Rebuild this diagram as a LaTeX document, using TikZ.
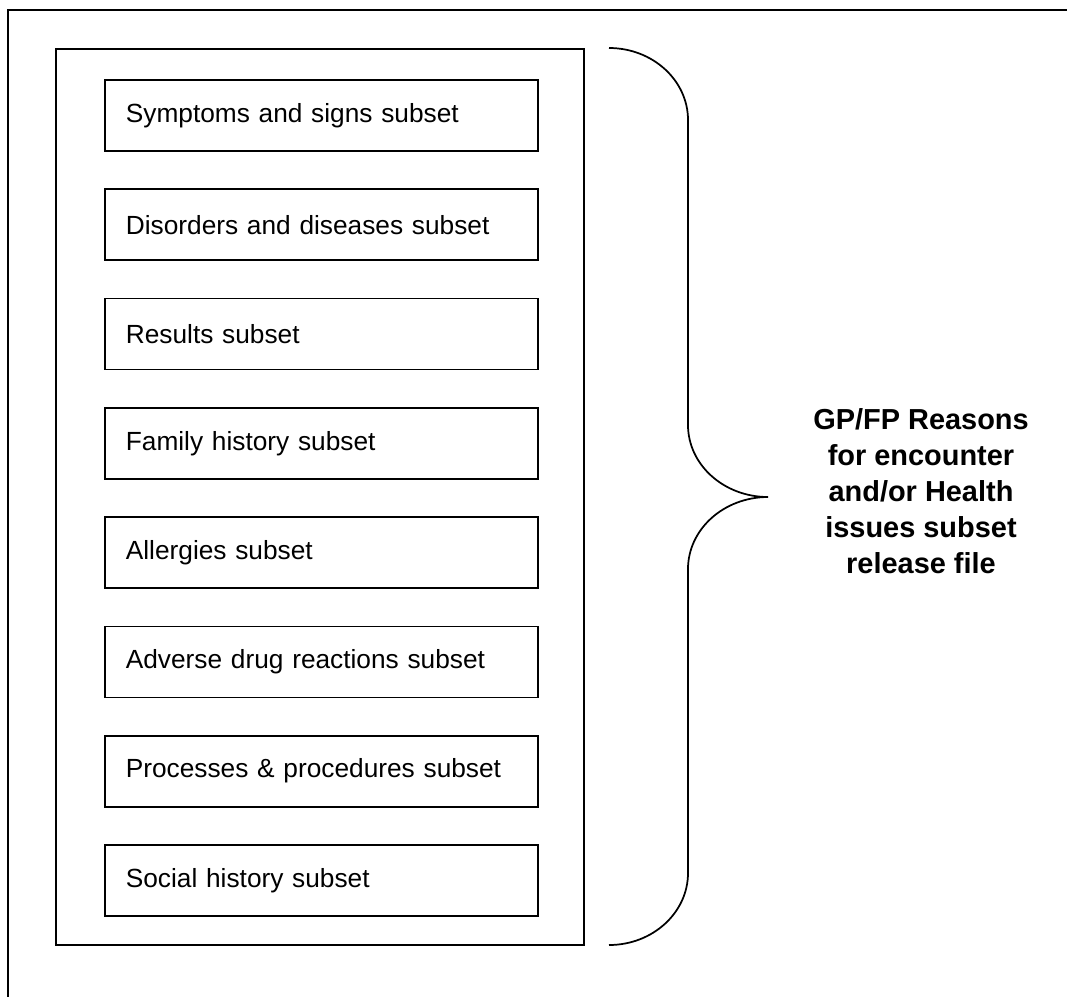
\documentclass[tikz,border=0pt]{standalone}
\usepackage{fontspec}
\setmainfont{Liberation Sans}
\tikzset{
  subsetbox/.style={draw, line width=1.3pt, anchor=north west, minimum width=324.75pt, minimum height=53.25pt, inner xsep=15.75pt, text width=293.25pt, align=left, font=\fontsize{19.7}{24}\selectfont},
  framestyle/.style={line width=1.3pt},
}
\begin{document}
\begin{tikzpicture}[x=0.75pt,y=0.75pt,yscale=-1,xscale=1]
\useasboundingbox (0,0) rectangle (1067,997);

%Outer frame (cut at the right and bottom)
\draw [framestyle] (1067,10) -- (8,10) -- (8,997);
%Inner container
\draw [framestyle] (56,49) rectangle (584,945);

% Subset boxes
\node [subsetbox] (symptoms) at (104,79) {Symptoms and signs subset};
\node [subsetbox] (disorders) at (104,188.3) {Disorders and diseases subset};
\node [subsetbox] (results) at (104,297.6) {Results subset};
\node [subsetbox] (family) at (104,406.9) {Family history subset};
\node [subsetbox] (allergies) at (104,516.2) {Allergies subset};
\node [subsetbox] (adverse) at (104,625.5) {Adverse drug reactions subset};
\node [subsetbox] (processes) at (104,734.8) {Processes \& procedures subset};
\node [subsetbox] (social) at (104,844.1) {Social history subset};

%Curly brace
\coordinate (bracetip) at (768,497);
\draw [framestyle] (609,48) .. controls (652.6,48) and (688,80.3) .. (688,120) -- (688,425) .. controls (688,464.7) and (723.8,497) .. (bracetip) .. controls (723.8,497) and (688,529.3) .. (688,569) -- (688,873) .. controls (688,912.7) and (652.6,945) .. (609,945);

% Text Node
\node [align=center, font=\fontsize{21.7}{27}\selectfont\bfseries] (releasefile) at (921,491) {GP/FP Reasons\\for encounter\\and/or Health\\issues subset\\release file};

\end{tikzpicture}
\end{document}
